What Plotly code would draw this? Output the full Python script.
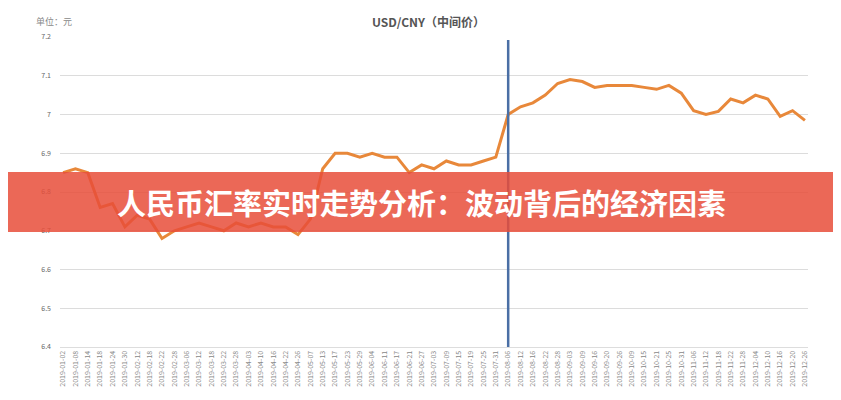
import plotly.graph_objects as go

dates = ["01-02","01-08","01-14","01-18","01-24","01-30","02-12","02-18","02-22","02-28",
         "03-06","03-12","03-18","03-22","03-28","04-03","04-10","04-16","04-22","04-26",
         "05-07","05-13","05-17","05-23","05-29","06-04","06-11","06-17","06-21","06-27",
         "07-03","07-09","07-15","07-19","07-25","07-31","08-06","08-12","08-16","08-22",
         "08-28","09-03","09-09","09-16","09-20","09-26","10-09","10-15","10-21","10-25",
         "10-31","11-06","11-12","11-18","11-22","11-28","12-04","12-10","12-16","12-20","12-26"]
labels = ["2019-" + d for d in dates]
rates = [6.85,6.86,6.85,6.76,6.77,6.71,6.74,6.73,6.68,6.70,
         6.71,6.72,6.71,6.70,6.72,6.71,6.72,6.71,6.71,6.69,
         6.73,6.86,6.90,6.90,6.89,6.90,6.89,6.89,6.85,6.87,
         6.86,6.88,6.87,6.87,6.88,6.89,7.00,7.02,7.03,7.05,
         7.08,7.09,7.085,7.07,7.075,7.075,7.075,7.07,7.065,7.075,
         7.055,7.01,7.00,7.008,7.04,7.03,7.05,7.04,6.995,7.01,6.985]
marker_date = "2019-08-06"
banner_text = "人民币汇率实时走势分析：波动背后的经济因素"

OFF = 8
W, H = 841, 400
L, T = 60 - OFF, 37 - OFF
R = W - (808 - OFF)
B = H - (347 - OFF)
PW, PH = W - L - R, H - T - B
def px(x): return (x - OFF - L) / PW
def py(y): return (H - B - (y - OFF)) / PH

fig = go.Figure(go.Scatter(x=labels, y=rates, mode="lines",
                           line=dict(color="#E8883A", width=3)))
fig.add_shape(type="line", x0=marker_date, x1=marker_date, yref="paper", y0=0, y1=0.99,
              line=dict(color="#4A6FA5", width=2.5))
fig.add_shape(type="rect", xref="paper", yref="paper", x0=px(-20), x1=px(860),
              y0=py(232), y1=py(172),
              fillcolor="rgba(232,78,58,0.85)", line_width=0, layer="above")
fig.add_annotation(text="<b>" + banner_text + "</b>", xref="paper", yref="paper", x=px(421),
                   y=py(202), showarrow=False,
                   font=dict(size=29, color="white", family="Noto Sans CJK SC"))
fig.add_annotation(text="<b>USD/CNY（中间价）</b>", xref="paper", yref="paper",
                   x=px(428), y=py(11), showarrow=False,
                   font=dict(size=12, color="#555", family="Noto Sans CJK SC"))
fig.add_annotation(text="单位：元", xref="paper", yref="paper", xanchor="left",
                   x=px(34), y=py(13), showarrow=False,
                   font=dict(size=9, color="#888", family="Noto Sans CJK SC"))
fig.update_layout(
    width=W, height=H, margin=dict(l=L, r=R, t=T, b=B),
    plot_bgcolor="white", paper_bgcolor="white", showlegend=False,
    font=dict(family="Noto Sans CJK SC", color="#777"),
    xaxis=dict(type="category", range=[-0.25, 60.25], tickangle=-90, automargin=False,
               tickfont=dict(size=7, color="#888"), showgrid=False,
               showline=True, linecolor="#ddd", ticks=""),
    yaxis=dict(range=[6.4, 7.2], dtick=0.1, tickformat="~g", gridcolor="#dcdcdc",
               automargin=False,
               tickfont=dict(size=7, color="#666"), zeroline=False, ticklabelstandoff=8),
)
fig.write_html("out.html")
